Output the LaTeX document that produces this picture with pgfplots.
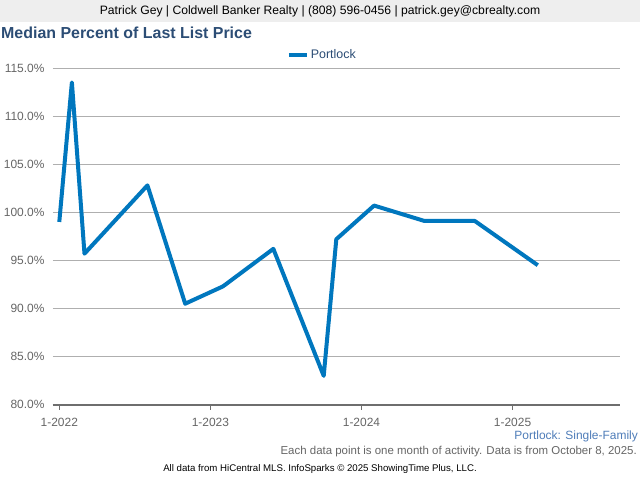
\documentclass[border=0pt]{standalone}
\usepackage{pgfplots}
\pgfplotsset{compat=1.18}
\usepackage{fontspec}
\setmainfont{Liberation Sans}
\definecolor{lineblue}{RGB}{0,119,190}
\definecolor{titleblue}{RGB}{44,77,117}
\definecolor{labgray}{RGB}{102,102,102}
\definecolor{gridgray}{RGB}{175,175,175}
\definecolor{axisgray}{RGB}{110,110,110}
\definecolor{hdrgray}{RGB}{238,238,238}
\definecolor{subblue}{RGB}{79,125,185}

\begin{document}
\begin{tikzpicture}
\useasboundingbox[fill=white] (0,0) rectangle (640bp,-480bp);
\fill[hdrgray] (0,0) rectangle (640bp,-22bp);
\node[inner sep=0pt, font=\fontsize{12.2}{14}\selectfont] at (320bp,-11.5bp)
  {Patrick Gey | Coldwell Banker Realty | (808) 596-0456 | patrick.gey@cbrealty.com};
\node[anchor=west, inner sep=0pt, font=\bfseries\fontsize{16}{18}\selectfont, text=titleblue]
  at (1bp,-33bp) {Median Percent of Last List Price};

\begin{axis}[
  at={(53bp,-404.7bp)}, anchor=south west,
  scale only axis, width=566.6bp, height=336.7bp,
  xmin=-0.5, xmax=44.5, ymin=80, ymax=115,
  axis lines=left,
  x axis line style={-, draw=axisgray, line width=2.2bp},
  y axis line style={draw=none},
  xtick={0,12,24,36}, xticklabels={1-2022,1-2023,1-2024,1-2025},
  ytick={80,85,...,115},
  ymajorgrids, grid style={gridgray, line width=1bp},
  tick align=outside, major tick length=5bp,
  xtick style={draw=axisgray, line width=1.5bp},
  ytick style={draw=none},
  ticklabel style={font=\fontsize{12}{14}\selectfont, text=labgray},
  xticklabel style={yshift=-5bp},
  yticklabel={\pgfmathprintnumber[fixed,fixed zerofill,precision=1]{\tick}\%},
  /pgf/number format/assume math mode=true,
  legend style={at={(0.5,1)}, anchor=south, xshift=-14bp, yshift=4bp, draw=none, fill=none,
    font=\fontsize{12.5}{14}\selectfont, text=titleblue},
  legend image code/.code={\draw[line width=4bp,#1] (0bp,0bp) -- (18bp,0bp);},
]
\addplot[color=lineblue, line width=4bp, line join=round] coordinates {
  (0,99.0) (1,113.5) (2,95.7) (7,102.8) (10,90.5) (13,92.3) (17,96.2)
  (21,83.0) (22,97.2) (25,100.7) (29,99.1) (33,99.1) (38,94.5)
};
\legend{Portlock}
\end{axis}

\node[anchor=east, inner sep=0pt, font=\fontsize{12}{14}\selectfont, text=subblue]
  at (638bp,-436bp) {Portlock: Single-Family};
\node[anchor=east, inner sep=0pt, font=\fontsize{11.5}{13}\selectfont, text=labgray]
  at (637bp,-452bp) {Each data point is one month of activity. Data is from October 8, 2025.};
\node[inner sep=0pt, font=\fontsize{9.7}{12}\selectfont]
  at (320bp,-469bp) {All data from HiCentral MLS. InfoSparks © 2025 ShowingTime Plus, LLC.};
\end{tikzpicture}
\end{document}
